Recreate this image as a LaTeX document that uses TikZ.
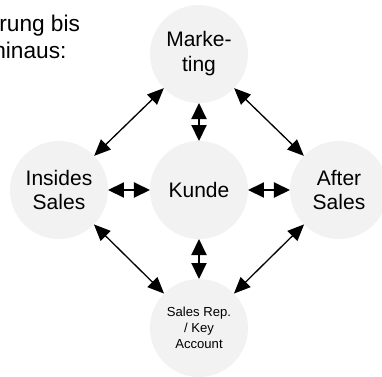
\documentclass[tikz,border=0pt]{standalone}
\usepackage{fontspec}
\setmainfont{Liberation Sans}
\usetikzlibrary{arrows.meta}
\definecolor{blobgrey}{HTML}{F2F2F2}
\pgfdeclarelayer{edgelayer}
\pgfdeclarelayer{nodelayer}
\pgfsetlayers{edgelayer,nodelayer,main}
\tikzset{font=\fontsize{11.95}{14.2}\selectfont}
\tikzstyle{none}=[inner sep=0pt]
\tikzstyle{blob}=[circle,fill=blobgrey,draw=none,minimum size=1.96cm,inner sep=0pt,outer sep=0pt,align=center]
\tikzstyle{smalltext}=[font=\fontsize{7.45}{8.93}\selectfont]
\tikzstyle{toptext}=[font=\fontsize{12.9}{14.8}\selectfont]
\tikzstyle{link}=[{Triangle[length=0.33cm,width=0.28cm]}-{Triangle[length=0.33cm,width=0.28cm]},line width=0.75pt]
\tikzstyle{short link}=[{Triangle[length=0.32cm,width=0.3cm]}-{Triangle[length=0.32cm,width=0.3cm]},line width=1.15pt]

\begin{document}
\begin{tikzpicture}
	\useasboundingbox (-3.98, 3.8) rectangle (3.66, -3.72);
	\begin{pgfonlayer}{nodelayer}
		\node [style=blob] (0) at (0, 0) {Kunde};
		\node [style=blob] (1) at (0, 2.72) {Marke-\\ting};
		\node [style=blob] (2) at (-2.8, 0) {Insides\\Sales};
		\node [style=blob] (3) at (2.8, 0) {After\\Sales};
		\node [style=blob, smalltext] (4) at (0, -2.76) {Sales Rep.\\/ Key\\Account};
		\node [style=none, toptext, anchor=base west] (5) at (-4.0, 3.166) {rung bis};
		\node [style=none, toptext, anchor=base west] (6) at (-4.12, 2.64) {hinaus:};
	\end{pgfonlayer}
	\begin{pgfonlayer}{edgelayer}
		\draw [style=link] (2) to (1);
		\draw [style=link] (1) to (3);
		\draw [style=link] (2) to (4);
		\draw [style=link] (3) to (4);
		\draw [style=short link] (1) to (0);
		\draw [style=short link] (2) to (0);
		\draw [style=short link] (0) to (3);
		\draw [style=short link] (0) to (4);
	\end{pgfonlayer}
\end{tikzpicture}
\end{document}
